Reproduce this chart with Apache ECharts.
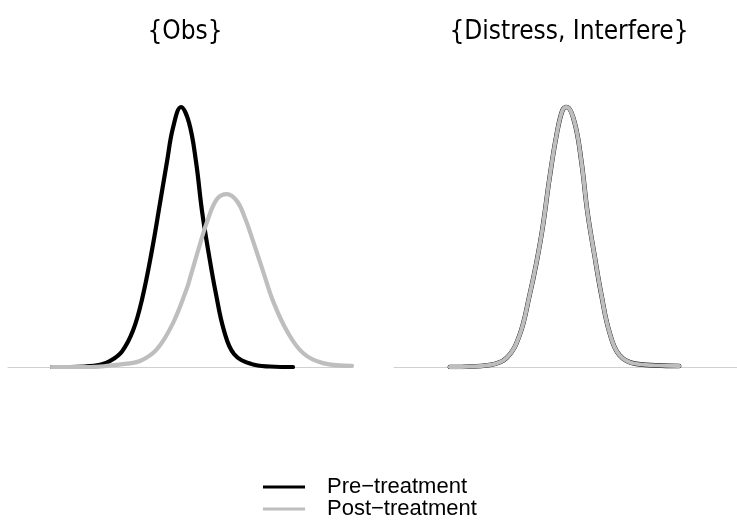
<!DOCTYPE html>
<html lang="en">
  <head>
    <meta charset="UTF-8" />
    <title>Density by symptom cluster</title>
    <script src="https://cdn.jsdelivr.net/npm/echarts@6/dist/echarts.min.js"></script>
    <style>
      html, body { margin: 0; padding: 0; background: #fff; }
      #chart { width: 737px; height: 521px; }
    </style>
  </head>
  <body>
    <div id="chart"></div>
    <script>
      // panel titles
      const panelTitles = ["{Obs}", "{Distress, Interfere}"];
      const seriesNames = ["Pre\u2212treatment", "Post\u2212treatment"];

      // {Obs} panel, pre-treatment density (x = score, y = density relative to peak)
      const obsPreX = [4.4, 7.7, 9.2, 10.2, 11.4, 12.5, 13.4, 14.4, 15.2, 15.9, 16.5, 17.3, 18.1, 18.8, 19.4, 20.1, 20.8, 21.6, 22.6, 24.3, 26.2, 28.5];
      const obsPreY = [0, 0.002, 0.008, 0.023, 0.06, 0.14, 0.26, 0.45, 0.63, 0.79, 0.92, 1.0, 0.94, 0.79, 0.6, 0.43, 0.28, 0.14, 0.05, 0.012, 0.002, 0];

      // {Obs} panel, post-treatment density
      const obsPostX = [4.4, 8.2, 9.9, 11.7, 13.2, 14.9, 16.5, 17.9, 18.2, 19.2, 19.9, 20.9, 21.9, 22.9, 23.7, 24.5, 25.5, 26.5, 27.9, 29.5, 31.5, 34.4];
      const obsPostY = [0, 0, 0.004, 0.012, 0.023, 0.069, 0.169, 0.304, 0.342, 0.473, 0.558, 0.646, 0.665, 0.638, 0.573, 0.485, 0.369, 0.254, 0.138, 0.054, 0.015, 0.004];

      // {Distress, Interfere} panel: pre and post curves coincide
      const diX = [5.6, 9.6, 11.3, 12.6, 13.6, 14.3, 14.9, 15.6, 16.3, 16.9, 17.3, 18.1, 18.8, 19.4, 20.1, 20.8, 21.6, 22.6, 24.3, 28.6];
      const diPreY = [0, 0.008, 0.035, 0.123, 0.277, 0.404, 0.535, 0.727, 0.892, 0.988, 1.0, 0.942, 0.788, 0.596, 0.431, 0.277, 0.135, 0.046, 0.012, 0.004];
      const diPostY = [0, 0.008, 0.035, 0.123, 0.277, 0.404, 0.535, 0.727, 0.892, 0.988, 1.0, 0.942, 0.788, 0.596, 0.431, 0.277, 0.135, 0.046, 0.012, 0.004];

      const zip = (xs, ys) => xs.map((x, i) => [x, ys[i]]);

      const chart = echarts.init(document.getElementById("chart"));

      const axisX = (idx) => ({
        type: "value",
        gridIndex: idx,
        min: 0,
        max: 34.4,
        position: "bottom",
        axisLine: { show: true, onZero: false, lineStyle: { color: "#d0d0d0", width: 1 } },
        axisTick: { show: false },
        axisLabel: { show: false },
        splitLine: { show: false },
      });
      const axisY = (idx) => ({
        type: "value",
        gridIndex: idx,
        min: 0,
        max: 1.1,
        show: false,
        splitLine: { show: false },
      });

      const line = (name, data, idx, color, width, z) => ({
        name: name,
        type: "line",
        xAxisIndex: idx,
        yAxisIndex: idx,
        data: data,
        smooth: 0.4,
        showSymbol: false,
        color: color,
        z: z,
        lineStyle: { color: color, width: width, cap: "round", join: "round" },
      });

      const titleFont = {
        fontFamily: "Liberation Sans Narrow, DejaVu Sans Condensed, Liberation Sans, sans-serif",
        fontSize: 26,
        fontWeight: "normal",
        color: "#000",
      };

      chart.setOption({
        animation: false,
        backgroundColor: "#fff",
        title: [
          { text: panelTitles[0], left: 180, top: 14, textAlign: "center", textStyle: titleFont },
          { text: panelTitles[1], left: 564, top: 14, textAlign: "center", textStyle: titleFont },
        ],
        grid: [
          { left: 8, width: 344, top: 81, height: 286 },
          { left: 394, width: 343, top: 81, height: 286 },
        ],
        xAxis: [axisX(0), axisX(1)],
        yAxis: [axisY(0), axisY(1)],
        legend: {
          data: seriesNames,
          orient: "vertical",
          left: 263,
          top: 476,
          padding: 0,
          itemGap: 0,
          itemWidth: 42,
          itemHeight: 3,
          icon: "rect",
          textStyle: {
            fontFamily: "Liberation Sans, Arial, sans-serif",
            fontSize: 22,
            lineHeight: 21,
            color: "#000",
            padding: [0, 0, 0, 17],
          },
        },
        series: [
          line(seriesNames[0], zip(obsPreX, obsPreY), 0, "#000000", 4.2, 2),
          line(seriesNames[1], zip(obsPostX, obsPostY), 0, "#bebebe", 4.2, 3),
          line(seriesNames[0], zip(diX, diPreY), 1, "#000000", 4.6, 2),
          line(seriesNames[1], zip(diX, diPostY), 1, "#bebebe", 4.0, 3),
        ],
      });
    </script>
  </body>
</html>
